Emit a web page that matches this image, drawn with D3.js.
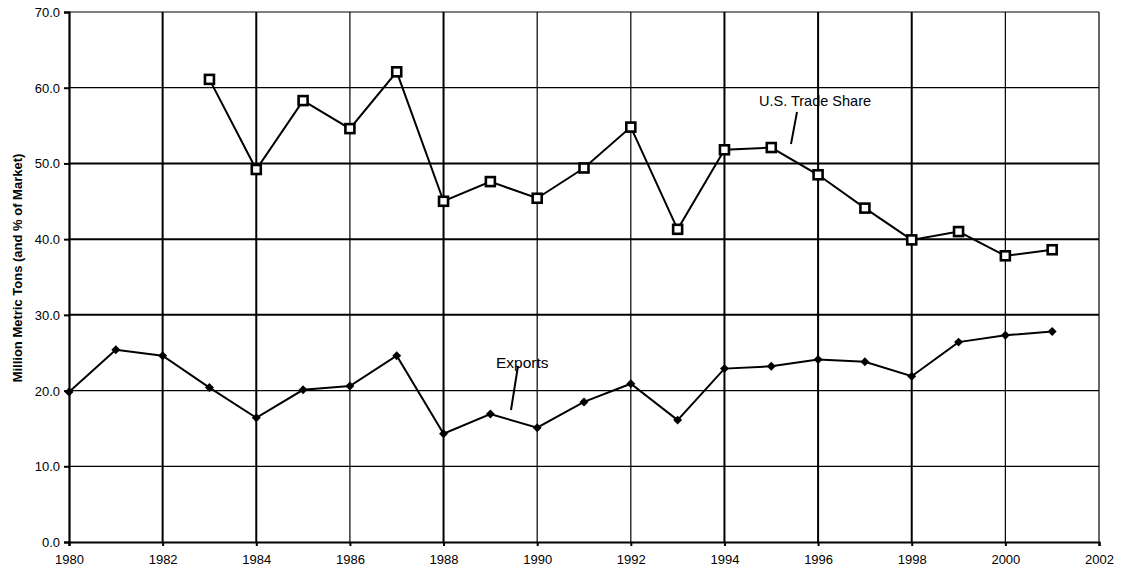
<!DOCTYPE html>
<html>
<head>
<meta charset="utf-8">
<script src="https://cdn.jsdelivr.net/npm/d3@7"></script>
<style>
body { margin: 0; background: #fff; }
svg { display: block; font-family: "Liberation Sans", Arial, sans-serif; }
</style>
</head>
<body>
<svg id="chart" width="1122" height="573"></svg>
<script>
const exportYears = [1980,1981,1982,1983,1984,1985,1986,1987,1988,1989,1990,1991,1992,1993,1994,1995,1996,1997,1998,1999,2000,2001];
const exportValues = [19.8,25.4,24.6,20.4,16.4,20.1,20.6,24.6,14.3,16.9,15.1,18.5,20.9,16.1,22.9,23.2,24.1,23.8,21.9,26.4,27.3,27.8];
const shareYears = [1983,1984,1985,1986,1987,1988,1989,1990,1991,1992,1993,1994,1995,1996,1997,1998,1999,2000,2001];
const shareValues = [61.1,49.2,58.3,54.6,62.1,45.0,47.6,45.4,49.4,54.8,41.3,51.8,52.1,48.5,44.1,39.9,41.0,37.8,38.6];
const xTicks = [1980,1982,1984,1986,1988,1990,1992,1994,1996,1998,2000,2002];
const yTicks = [0,10,20,30,40,50,60,70];
const yLabel = "Million Metric Tons (and % of Market)";
const shareLabel = "U.S. Trade Share";
const exportLabel = "Exports";

const svg = d3.select("#chart");
const m = {left: 69, right: 1099, top: 12, bottom: 542};
const x = d3.scaleLinear().domain([1980, 2002]).range([m.left, m.right]);
const y = d3.scaleLinear().domain([0, 70]).range([m.bottom, m.top]);

const thickV = new Set([1982,1984,1988,1994,1996,1998]);
const thickH = new Set([30,40,50]);

// gridlines
svg.append("g").selectAll("line").data(xTicks.slice(1)).join("line")
  .attr("x1", d => x(d)).attr("x2", d => x(d))
  .attr("y1", y(70)).attr("y2", y(0))
  .attr("stroke", "#000").attr("stroke-width", d => thickV.has(d) ? 2 : 1.2);
svg.append("g").selectAll("line").data(yTicks.slice(1)).join("line")
  .attr("x1", x(1980)).attr("x2", x(2002))
  .attr("y1", d => y(d)).attr("y2", d => y(d))
  .attr("stroke", "#000").attr("stroke-width", d => thickH.has(d) ? 2 : 1.2);

// axes
const yAxis = svg.append("g").attr("transform", `translate(${m.left},0)`)
  .call(d3.axisLeft(y).tickValues(yTicks).tickFormat(d3.format(".1f")).tickSize(5).tickPadding(4));
const xAxis = svg.append("g").attr("transform", `translate(0,${m.bottom})`)
  .call(d3.axisBottom(x).tickValues(xTicks).tickFormat(d3.format("d")).tickSize(4).tickPadding(9));
[yAxis, xAxis].forEach(a => {
  a.select(".domain").attr("stroke", "#000").attr("stroke-width", 2.2);
  a.selectAll(".tick line").attr("stroke", "#000").attr("stroke-width", 2);
  a.selectAll("text").attr("fill", "#000").attr("font-size", 13)
    .attr("font-family", "'Liberation Sans', Arial, sans-serif");
});
yAxis.selectAll("text").attr("dy", "0.35em");

// y label
svg.append("text")
  .attr("transform", `translate(22,268) rotate(-90)`)
  .attr("text-anchor", "middle")
  .attr("font-size", 13).attr("font-weight", "bold")
  .text(yLabel);

const line = d3.line().x(d => x(d[0])).y(d => y(d[1]));

// exports
const exp = exportYears.map((d, i) => [d, exportValues[i]]);
svg.append("path").datum(exp).attr("d", line)
  .attr("fill", "none").attr("stroke", "#000").attr("stroke-width", 2);
svg.append("g").selectAll("path").data(exp).join("path")
  .attr("d", d3.symbol(d3.symbolSquare, 40))
  .attr("transform", d => `translate(${x(d[0])},${y(d[1])}) rotate(45)`)
  .attr("fill", "#000");

// trade share
const sh = shareYears.map((d, i) => [d, shareValues[i]]);
svg.append("path").datum(sh).attr("d", line)
  .attr("fill", "none").attr("stroke", "#000").attr("stroke-width", 2);
svg.append("g").selectAll("rect").data(sh).join("rect")
  .attr("x", d => x(d[0]) - 4.5).attr("y", d => y(d[1]) - 4.5)
  .attr("width", 9).attr("height", 9)
  .attr("fill", "#fff").attr("stroke", "#000").attr("stroke-width", 2.6);

// annotations
svg.append("text").attr("x", 759).attr("y", 106).attr("font-size", 14.5).text(shareLabel);
svg.append("line").attr("x1", 797).attr("y1", 112).attr("x2", 791).attr("y2", 144)
  .attr("stroke", "#000").attr("stroke-width", 2);
svg.append("text").attr("x", 496).attr("y", 368).attr("font-size", 15.5).text(exportLabel);
svg.append("line").attr("x1", 518).attr("y1", 366).attr("x2", 511).attr("y2", 410)
  .attr("stroke", "#000").attr("stroke-width", 2);
</script>
</body>
</html>
